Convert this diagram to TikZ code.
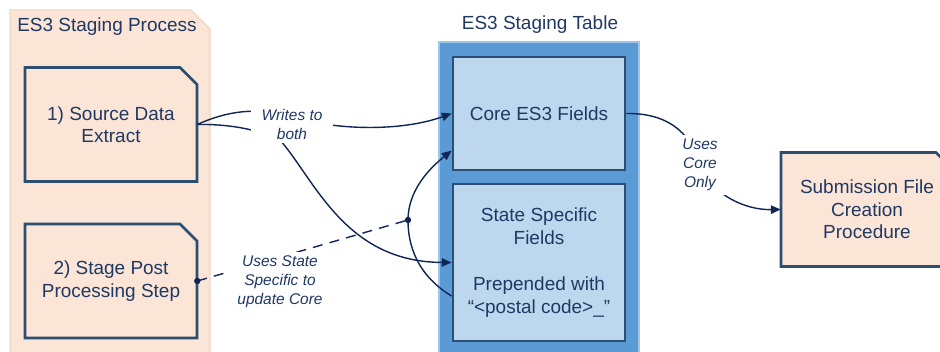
\documentclass[tikz,border=0pt]{standalone}
\usepackage{fontspec}
\setmainfont{Liberation Sans}
\usepackage{tikz}
\usetikzlibrary{arrows.meta}
\tikzset{>={Triangle[length=7pt,width=6pt]}}
\definecolor{peach}{RGB}{251,229,214}
\definecolor{panelline}{RGB}{240,214,196}
\definecolor{tableblue}{RGB}{91,155,213}
\definecolor{tableline}{RGB}{160,197,232}
\definecolor{fieldblue}{RGB}{189,215,238}
\definecolor{boxline}{RGB}{44,78,112}
\definecolor{navy}{RGB}{31,56,100}
\definecolor{linknavy}{RGB}{16,38,86}
\tikzset{
	boxtext/.style={align=center, text=navy, font=\fontsize{13.5}{16}\selectfont, inner sep=0pt},
	title/.style={text=navy, font=\fontsize{13.5}{16}\selectfont},
	note/.style={align=center, text=navy, fill=white, font=\fontsize{11}{13.5}\selectfont\itshape, inner xsep=2.5mm, inner ysep=1mm},
	link/.style={draw=linknavy, line width=1pt},
	field/.style={boxtext, draw=boxline, fill=fieldblue, line width=2pt, minimum width=43mm},
}
\newcommand{\notebox}[4][peach]{% [fill]{name}{centre}{text}
	\coordinate (#2-c) at #3;
	\draw[draw=boxline, fill=#1, line width=1.8pt] ([shift={(-86,-57)}]#2-c) -- ([shift={(69,-57)}]#2-c) -- ([shift={(86,-40)}]#2-c) -- ([shift={(86,57)}]#2-c) -- ([shift={(-86,57)}]#2-c) -- cycle; % dog-ear outline
	\node[boxtext, minimum width=43mm, minimum height=28.5mm] (#2) at (#2-c) {#4} % text on top
}

\begin{document}
\begin{tikzpicture}[x=0.25mm, y=-0.25mm]
	\useasboundingbox (0,0) rectangle (940,352);

	% panels
	\draw[draw=panelline, fill=peach, line width=0.8pt] (10,10) -- (191,10) -- (210,29) -- (210,360) -- (10,360) -- cycle;
	\node[title] (proctitle) at (107,27) {ES3 Staging Process};
	\draw[draw=tableline, fill=tableblue, line width=0.8pt] (439,42) rectangle (639,360);
	\node[title] (tabletitle) at (540,25) {ES3 Staging Table};

	% boxes
	\notebox{src}{(111,124.5)}{1) Source Data\\Extract};
	\notebox{stage}{(111,281)}{2) Stage Post\\Processing Step};
	\notebox{sub}{(867,209.5)}{Submission File\\Creation\\Procedure};
	\node[field, minimum height=28.25mm] (core) at (539,113.5) {Core ES3 Fields};
	\node[field, minimum height=39.25mm] (state) at (539,262.5) {State Specific\\Fields\\[6mm]Prepended with\\“<postal code>\_”};

	% connectors
	\coordinate (jn) at (408,220);
	\draw[link, ->] (src.east) .. controls (225,112) and (255,106) .. (292,117) .. controls (335,130) and (400,132) .. (core.west);
	\draw[link, ->] (src.east) .. controls (225,124) and (255,128) .. (280,140) .. controls (315,180) and (345,262) .. (state.west);
	\draw[link, dashed, dash pattern=on 2.5mm off 1.8mm] (stage.east) -- (jn);
	\draw[link, ->] (state.201) .. controls (425,280) and (408,255) .. (jn) .. controls (408,190) and (430,168) .. (core.203);
	\draw[link, ->] (core.east) .. controls (665,113) and (690,130) .. (700,165) .. controls (712,195) and (745,210) .. (sub.west);
	\fill[linknavy] (stage.east) circle (0.8mm);
	\fill[linknavy] (jn) circle (0.8mm);

	% labels
	\node[note] (writes) at (292,124) {Writes to\\both};
	\node[note] (usesstate) at (280,282) {Uses State\\Specific to\\update Core};
	\node[note] (usescore) at (700,165) {Uses\\Core\\Only};
\end{tikzpicture}
\end{document}
